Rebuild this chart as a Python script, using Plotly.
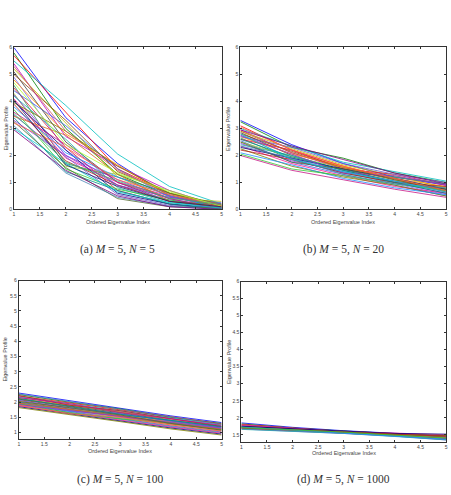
import plotly.graph_objects as go

x_index = [1, 2, 3, 4, 5]

profiles_a = [
    [6.0, 3.4, 1.7, 0.5, 0.05], [5.8, 3.0, 1.3, 0.5, 0.1], [5.7, 3.6, 1.5, 0.6, 0.15],
    [5.5, 3.85, 2.05, 0.85, 0.2], [5.4, 2.7, 1.6, 0.7, 0.1], [5.2, 3.2, 1.2, 0.4, 0.3],
    [5.1, 2.5, 1.0, 0.3, 0.05], [5.0, 3.3, 1.4, 0.6, 0.15], [4.9, 2.2, 0.9, 0.35, 0.1],
    [4.8, 2.8, 1.65, 0.5, 0.2], [4.6, 1.7, 1.2, 0.6, 0.05], [4.5, 2.3, 0.7, 0.2, 0.0],
    [4.4, 3.1, 1.5, 0.45, 0.25], [4.3, 1.6, 1.3, 0.7, 0.1], [4.25, 2.0, 1.1, 0.4, 0.05],
    [4.2, 2.6, 0.8, 0.25, 0.1], [4.1, 1.9, 1.0, 0.5, 0.0], [4.0, 2.2, 0.6, 0.2, 0.05],
    [3.95, 2.9, 1.6, 0.6, 0.2], [3.9, 1.8, 0.9, 0.3, 0.15], [3.8, 2.1, 1.2, 0.5, 0.05],
    [3.7, 1.5, 0.75, 0.35, 0.1], [3.6, 2.4, 1.0, 0.4, 0.0], [3.5, 1.95, 0.55, 0.15, 0.05],
    [3.45, 2.75, 1.3, 0.3, 0.1], [3.4, 1.4, 0.7, 0.2, 0.0], [3.3, 2.0, 0.9, 0.45, 0.2],
    [3.25, 1.55, 0.4, 0.1, 0.05], [3.2, 2.3, 1.1, 0.55, 0.15], [3.1, 1.35, 0.45, 0.12, 0.0],
    [3.0, 1.7, 0.65, 0.25, 0.05], [2.95, 1.45, 0.5, 0.1, 0.0], [4.7, 2.4, 1.35, 0.65, 0.12],
    [5.3, 2.9, 1.45, 0.55, 0.08], [4.05, 1.65, 0.85, 0.3, 0.1], [3.55, 1.75, 1.05, 0.42, 0.18],
]

profiles_b = [
    [3.3, 2.4, 1.7, 1.2, 0.9], [3.25, 2.3, 1.9, 1.35, 1.0], [3.1, 2.2, 1.6, 1.1, 0.7],
    [3.0, 2.35, 1.75, 1.4, 1.05], [2.95, 2.1, 1.5, 1.0, 0.6], [2.9, 2.25, 1.65, 1.25, 0.8],
    [2.85, 2.0, 1.45, 1.05, 0.75], [2.8, 2.15, 1.55, 1.2, 0.95], [2.75, 1.9, 1.4, 0.95, 0.55],
    [2.7, 2.05, 1.6, 1.15, 0.85], [2.65, 1.85, 1.35, 1.0, 0.7], [2.6, 2.2, 1.5, 1.3, 0.9],
    [2.55, 1.75, 1.3, 0.9, 0.5], [2.5, 1.95, 1.55, 1.1, 0.8], [2.45, 1.8, 1.4, 1.05, 0.65],
    [2.4, 2.0, 1.45, 1.2, 0.95], [2.35, 1.7, 1.25, 0.85, 0.6], [2.3, 1.9, 1.5, 1.15, 0.75],
    [2.25, 1.6, 1.2, 0.9, 0.5], [2.2, 1.85, 1.35, 1.0, 0.85], [2.1, 1.65, 1.15, 0.8, 0.55],
    [2.05, 1.5, 1.25, 0.95, 0.7], [2.0, 1.45, 1.1, 0.75, 0.45], [2.7, 2.3, 1.7, 1.3, 1.0],
    [2.9, 2.1, 1.55, 1.15, 0.65], [2.6, 1.95, 1.45, 1.0, 0.6], [2.75, 2.05, 1.35, 1.25, 0.9],
    [2.5, 1.75, 1.5, 1.1, 0.75], [3.05, 2.2, 1.6, 1.15, 0.7], [2.35, 1.9, 1.3, 0.95, 0.8],
    [2.8, 1.85, 1.4, 1.05, 0.65], [2.95, 2.35, 1.85, 1.35, 0.95],
]

profiles_c = [
    [2.3, 2.05, 1.8, 1.55, 1.33], [2.25, 2.0, 1.78, 1.5, 1.3], [2.2, 1.98, 1.75, 1.52, 1.28],
    [2.18, 1.95, 1.72, 1.48, 1.25], [2.15, 1.92, 1.7, 1.45, 1.22], [2.12, 1.9, 1.68, 1.42, 1.2],
    [2.1, 1.88, 1.65, 1.4, 1.18], [2.08, 1.85, 1.62, 1.38, 1.15], [2.05, 1.83, 1.6, 1.36, 1.13],
    [2.03, 1.8, 1.58, 1.35, 1.12], [2.0, 1.78, 1.55, 1.32, 1.1], [1.98, 1.76, 1.52, 1.3, 1.08],
    [1.96, 1.74, 1.5, 1.28, 1.06], [1.95, 1.72, 1.48, 1.25, 1.05], [1.93, 1.7, 1.46, 1.22, 1.02],
    [1.9, 1.68, 1.44, 1.2, 1.0], [1.88, 1.65, 1.42, 1.18, 0.98], [1.85, 1.62, 1.4, 1.15, 0.95],
    [1.82, 1.6, 1.36, 1.12, 0.92], [2.22, 1.9, 1.72, 1.46, 1.2], [2.0, 1.7, 1.6, 1.4, 1.15],
    [1.95, 1.65, 1.45, 1.32, 1.1], [2.15, 1.95, 1.66, 1.44, 1.24], [2.06, 1.8, 1.63, 1.37, 1.17],
    [1.97, 1.75, 1.55, 1.28, 1.12], [2.12, 1.85, 1.6, 1.4, 1.2], [1.92, 1.73, 1.53, 1.34, 1.14],
    [2.02, 1.82, 1.58, 1.3, 1.08], [1.9, 1.62, 1.5, 1.25, 1.05], [2.27, 2.02, 1.76, 1.5, 1.27],
]

profiles_d = [
    [1.85, 1.72, 1.62, 1.55, 1.47], [1.82, 1.7, 1.61, 1.54, 1.46], [1.8, 1.7, 1.6, 1.53, 1.45],
    [1.78, 1.68, 1.6, 1.52, 1.44], [1.77, 1.68, 1.59, 1.52, 1.45], [1.76, 1.67, 1.59, 1.51, 1.43],
    [1.75, 1.66, 1.58, 1.5, 1.42], [1.74, 1.66, 1.58, 1.5, 1.42], [1.73, 1.65, 1.57, 1.49, 1.41],
    [1.72, 1.65, 1.57, 1.49, 1.4], [1.71, 1.64, 1.56, 1.48, 1.39], [1.7, 1.63, 1.56, 1.48, 1.38],
    [1.69, 1.63, 1.55, 1.47, 1.37], [1.68, 1.62, 1.55, 1.47, 1.36], [1.67, 1.61, 1.54, 1.46, 1.35],
    [1.66, 1.6, 1.54, 1.45, 1.35], [1.79, 1.69, 1.59, 1.55, 1.5], [1.75, 1.68, 1.6, 1.54, 1.52],
    [1.72, 1.66, 1.58, 1.51, 1.48], [1.7, 1.64, 1.57, 1.5, 1.46], [1.73, 1.64, 1.56, 1.47, 1.37],
    [1.71, 1.65, 1.58, 1.49, 1.41],
]

captions = ["(a) <i>M</i> = 5, <i>N</i> = 5", "(b) <i>M</i> = 5, <i>N</i> = 20",
            "(c) <i>M</i> = 5, <i>N</i> = 100", "(d) <i>M</i> = 5, <i>N</i> = 1000"]
x_title = "Ordered Eigenvalue Index"
y_title = "Eigenvalue Profile"

palette = ["#0000FF", "#008000", "#FF0000", "#00BFBF", "#BF00BF", "#BFBF00", "#404040",
           "#8B4513", "#7B68EE", "#FF8C00", "#2E8B57", "#DC143C", "#4169E1", "#9ACD32",
           "#8A2BE2", "#20B2AA", "#FF1493", "#000080", "#808000", "#B22222", "#1E90FF",
           "#32CD32", "#C71585", "#6A5ACD", "#D2691E", "#008B8B", "#9932CC", "#556B2F",
           "#FF6347", "#4682B4", "#00CED1", "#800080", "#ADFF2F", "#CD5C5C", "#191970", "#3CB371"]

W, H = 451, 495
def px_x(a, b):
    return [a / W, b / W]
def px_y(top, bot):
    return [1 - bot / H, 1 - top / H]

panels = [
    dict(data=profiles_a, xd=px_x(13, 222), yd=px_y(45, 209), yr=[0, 6], dt=1),
    dict(data=profiles_b, xd=px_x(241, 448), yd=px_y(45, 209), yr=[0, 6], dt=1),
    dict(data=profiles_c, xd=px_x(18, 222), yd=px_y(281, 441), yr=[0.8, 6], dt=0.5),
    dict(data=profiles_d, xd=px_x(242, 448), yd=px_y(282, 444), yr=[1.3, 6], dt=0.5),
]

fig = go.Figure()
layout = dict(width=W, height=H, margin=dict(l=0, r=0, t=0, b=0),
              paper_bgcolor="white", plot_bgcolor="white", showlegend=False,
              font=dict(family="Liberation Sans, Arial", size=5, color="#333"))
annotations = []
ytitle_x = [5, 229, 4, 229]
xtitle_y = [222, 222, 454, 456]
cap_y = [250, 250, 482, 482]
for i, p in enumerate(panels):
    n = "" if i == 0 else str(i + 1)
    for j, row in enumerate(p["data"]):
        fig.add_trace(go.Scatter(x=x_index, y=row, mode="lines",
                                 line=dict(color=palette[j % len(palette)], width=0.8),
                                 xaxis="x" + n, yaxis="y" + n, hoverinfo="skip"))
    common = dict(showline=True, mirror="ticks", linecolor="#333", linewidth=1,
                  ticks="inside", ticklen=2, tickwidth=0.6, tickcolor="#333",
                  showgrid=False, zeroline=False, tickfont=dict(size=5, color="#444"))
    layout["xaxis" + n] = dict(domain=p["xd"], range=[1, 5], tickmode="linear", tick0=1,
                               dtick=0.5, anchor="y" + n, **common)
    layout["yaxis" + n] = dict(domain=p["yd"], range=p["yr"], tickmode="linear",
                               tick0=0 if p["dt"] == 1 else 1, dtick=p["dt"],
                               anchor="x" + n, **common)
    cx = (p["xd"][0] + p["xd"][1]) / 2
    cy = (p["yd"][0] + p["yd"][1]) / 2
    annotations.append(dict(text=x_title, x=cx, y=1 - xtitle_y[i] / H, xref="paper", yref="paper",
                            showarrow=False, font=dict(size=5.5, color="#444"), xanchor="center", yanchor="middle"))
    annotations.append(dict(text=y_title, x=ytitle_x[i] / W, y=cy, xref="paper", yref="paper",
                            showarrow=False, textangle=-90, font=dict(size=5.5, color="#444"),
                            xanchor="center", yanchor="middle"))
    annotations.append(dict(text=captions[i], x=cx, y=1 - cap_y[i] / H, xref="paper", yref="paper",
                            showarrow=False, font=dict(family="Liberation Serif, DejaVu Serif", size=11.5, color="#333"),
                            xanchor="center", yanchor="middle"))
layout["annotations"] = annotations
fig.update_layout(**layout)
fig.write_html("out.html")
